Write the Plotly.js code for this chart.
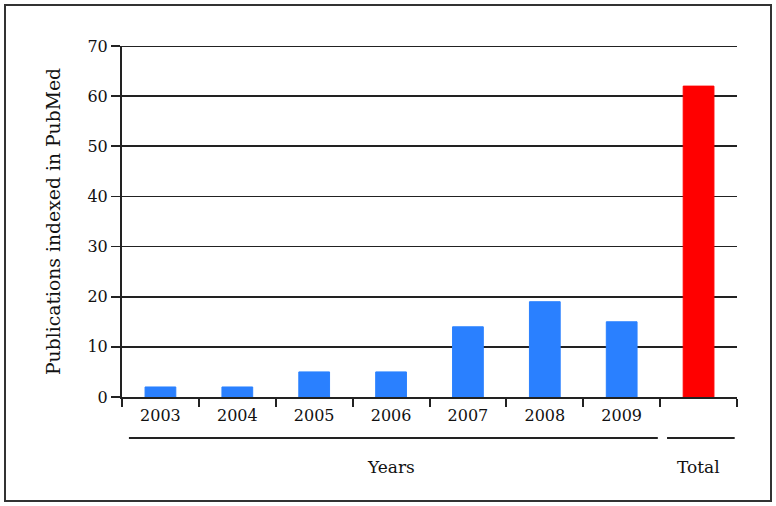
<!DOCTYPE html>
<html>
<head>
<meta charset="utf-8">
<script src="https://cdn.plot.ly/plotly-3.0.1.min.js"></script>
<style>
html,body{margin:0;padding:0;background:#fff;}
#chart{width:776px;height:506px;}
</style>
</head>
<body>
<div id="chart"></div>
<script>
// Data
const categories = ['2003','2004','2005','2006','2007','2008','2009','Total'];
const tickLabels = ['2003','2004','2005','2006','2007','2008','2009',''];
const values = [2, 2, 5, 5, 14, 19, 15, 62];
const barColors = ['#2a80ff','#2a80ff','#2a80ff','#2a80ff','#2a80ff','#2a80ff','#2a80ff','#ff0000'];
const groupLabels = ['Years', 'Total'];
const groupStart = [0, 7];   // first category index of each group
const groupEnd = [6, 7];     // last category index of each group
const yTitle = 'Publications indexed in PubMed';
const yMax = 70;

const FONT = 'DejaVu Serif, Liberation Serif, serif';
const DARK = '#222';
const TXT = '#111';

const trace = {
  type: 'bar',
  x: categories,
  y: values,
  marker: {color: barColors, line: {color: barColors, width: 1}},
  hoverinfo: 'x+y'
};

// plot area geometry (pixels) used for paper-relative decorations
const L = 122, R = 39, T = 46, B = 109, W = 776, H = 506;
const pw = W - L - R, ph = H - T - B;
const px = v => (v - L) / pw;
const py = v => (H - B - v) / ph;

const shapes = [
  // outer frame
  {type:'rect', xref:'paper', yref:'paper', x0:px(5), x1:px(771), y0:py(501), y1:py(5),
   line:{color:'#333', width:2}, fillcolor:'rgba(0,0,0,0)', layer:'above'},
  // top gridline at the range edge (Plotly omits it)
  {type:'line', xref:'paper', yref:'y', x0:0, x1:1, y0:yMax, y1:yMax,
   line:{color:DARK, width:1.8}, layer:'below'}
];
const annotations = [];
groupLabels.forEach((g, i) => {
  shapes.push({type:'line', xref:'x', yref:'paper',
    x0: groupStart[i] - 0.41, x1: groupEnd[i] + 0.47,
    y0: py(438), y1: py(438), line:{color:DARK, width:2}});
  annotations.push({xref:'x', yref:'paper', x:(groupStart[i] + groupEnd[i]) / 2,
    y: py(467), text: g, showarrow:false, yanchor:'middle', xanchor:'center',
    font:{family:FONT, size:17, color:TXT}});
});

const layout = {
  width: W, height: H,
  margin: {l: L, r: R, t: T, b: B, pad: 0},
  paper_bgcolor: '#fff', plot_bgcolor: '#fff',
  showlegend: false,
  bargap: 0.6,
  font: {family: FONT, size: 16, color: TXT},
  xaxis: {
    type: 'category',
    categoryorder: 'array', categoryarray: categories,
    tickvals: categories, ticktext: tickLabels,
    tickson: 'boundaries',
    ticks: 'outside', ticklen: 8, tickwidth: 2, tickcolor: DARK,
    showline: true, linecolor: DARK, linewidth: 2,
    showgrid: false, zeroline: false,
    ticklabelstandoff: 3,
    tickfont: {family: FONT, size: 16, color: TXT},
    fixedrange: true
  },
  yaxis: {
    range: [0, yMax], dtick: 10, tick0: 0,
    ticks: 'outside', ticklen: 9, tickwidth: 1.8, tickcolor: DARK,
    showline: true, linecolor: DARK, linewidth: 2,
    showgrid: true, gridcolor: DARK, gridwidth: 1.8,
    zeroline: false,
    ticklabelstandoff: 0,
    tickfont: {family: FONT, size: 16, color: TXT},
    title: {text: yTitle, font: {family: FONT, size: 18.8, color: TXT}, standoff: 22},
    fixedrange: true
  },
  shapes: shapes,
  annotations: annotations
};

Plotly.newPlot('chart', [trace], layout, {displayModeBar: false, staticPlot: true});
</script>
</body>
</html>
